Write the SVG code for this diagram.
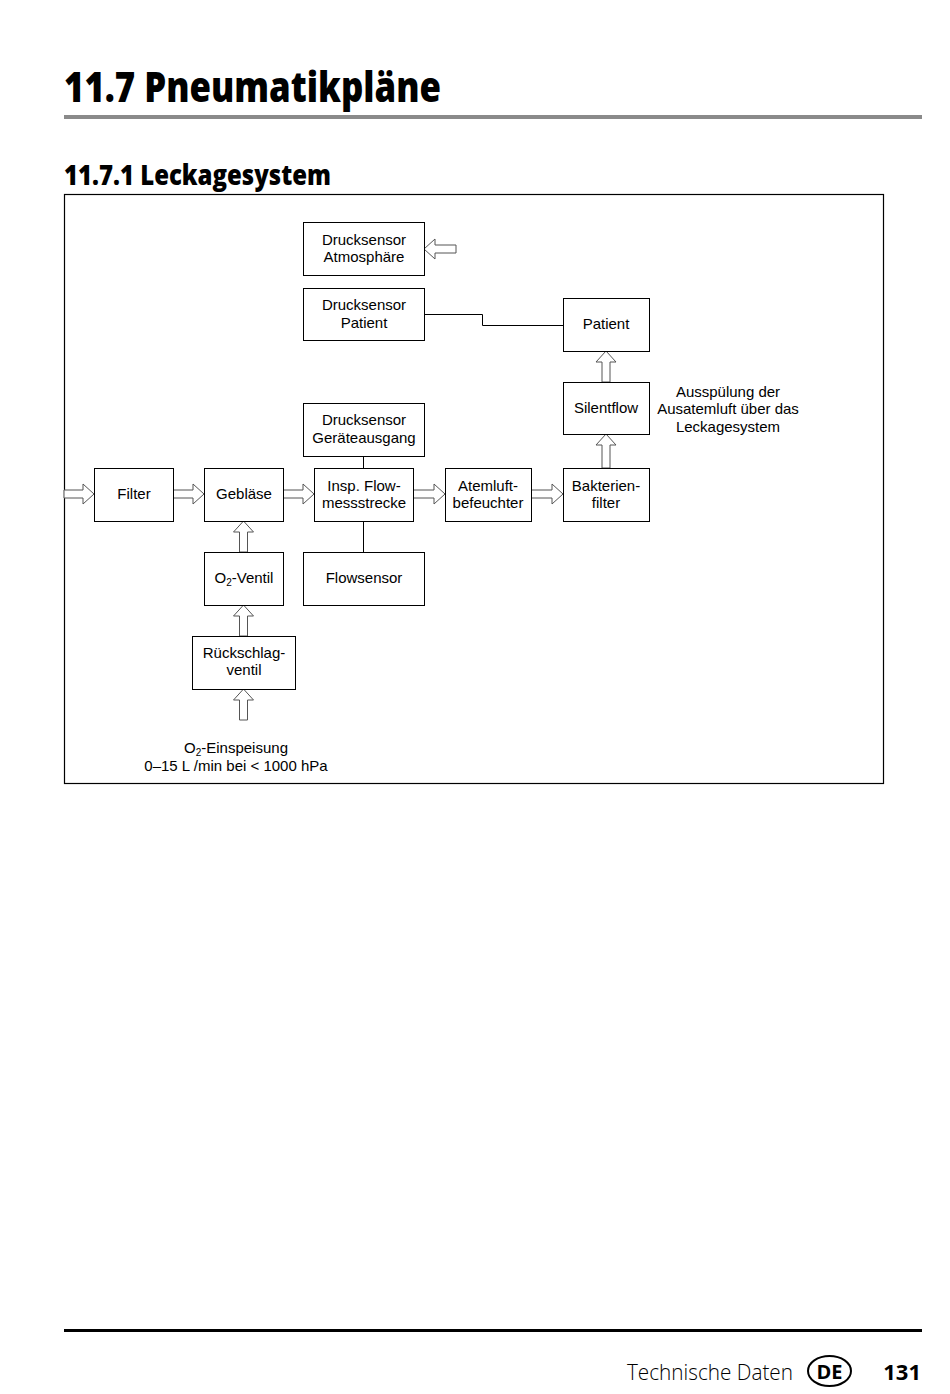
<svg xmlns="http://www.w3.org/2000/svg" width="950" height="1394" viewBox="0 0 950 1394">
<style>
.box{fill:#fff;stroke:#000;stroke-width:1}
.arr{fill:#fff;stroke:#555;stroke-width:1}
.ln{fill:none;stroke:#000;stroke-width:1}
.t{font-family:"Liberation Sans",Arial,sans-serif;font-size:15px;fill:#000;text-anchor:middle}
.h{font-family:"Open Sans","DejaVu Sans",sans-serif;font-weight:800;fill:#000}
</style>
<rect width="950" height="1394" fill="#fff"/>
<text class="h" x="64" y="102" font-size="42" textLength="377" lengthAdjust="spacingAndGlyphs">11.7 Pneumatikpläne</text>
<rect x="64" y="115" width="858" height="4" fill="#8a8a8a"/>
<text class="h" x="64" y="185" font-size="29" textLength="267" lengthAdjust="spacingAndGlyphs">11.7.1 Leckagesystem</text>
<rect x="64.5" y="194.5" width="819" height="589" fill="none" stroke="#000" stroke-width="1.2"/>

<g id="connectors">
<path class="ln" d="M363.5,456 V468 M363.5,521 V552 M424,314.5 H482.5 V325.5 H563"/>
<path class="arr" d="M64,490 L83,490 L83,484 L94,494 L83,504 L83,498 L64,498Z"/>
<path class="arr" d="M173,490 L193,490 L193,484 L204,494 L193,504 L193,498 L173,498Z"/>
<path class="arr" d="M283,490 L303,490 L303,484 L314,494 L303,504 L303,498 L283,498Z"/>
<path class="arr" d="M413,490 L434,490 L434,484 L445,494 L434,504 L434,498 L413,498Z"/>
<path class="arr" d="M531,490 L552,490 L552,484 L563,494 L552,504 L552,498 L531,498Z"/>
<path class="arr" d="M239.5,552 L239.5,532 L233.5,532 L243.5,521 L253.5,532 L247.5,532 L247.5,552Z"/>
<path class="arr" d="M239.5,636 L239.5,616 L233.5,616 L243.5,605 L253.5,616 L247.5,616 L247.5,636Z"/>
<path class="arr" d="M239.5,720 L239.5,700 L233.5,700 L243.5,689 L253.5,700 L247.5,700 L247.5,720Z"/>
<path class="arr" d="M602,468 L602,445 L596,445 L606,434 L616,445 L610,445 L610,468Z"/>
<path class="arr" d="M602,382 L602,362 L596,362 L606,351 L616,362 L610,362 L610,382Z"/>
<path class="arr" d="M456,245 L435,245 L435,239 L424,249 L435,259 L435,253 L456,253Z"/>
</g>

<g id="n-atmo"><rect class="box" x="303.5" y="222.5" width="121" height="53"/><text class="t" x="364" y="245">Drucksensor</text><text class="t" x="364" y="262">Atmosphäre</text></g>
<g id="n-dpat"><rect class="box" x="303.5" y="288.5" width="121" height="52"/><text class="t" x="364" y="310">Drucksensor</text><text class="t" x="364" y="328">Patient</text></g>
<g id="n-patient"><rect class="box" x="563.5" y="298.5" width="86" height="53"/><text class="t" x="606" y="329">Patient</text></g>
<g id="n-silent"><rect class="box" x="563.5" y="382.5" width="86" height="52"/><text class="t" x="606" y="413">Silentflow</text></g>
<g id="n-geraet"><rect class="box" x="303.5" y="403.5" width="121" height="53"/><text class="t" x="364" y="425">Drucksensor</text><text class="t" x="364" y="443">Geräteausgang</text></g>
<g id="n-filter"><rect class="box" x="94.5" y="468.5" width="79" height="53"/><text class="t" x="134" y="499">Filter</text></g>
<g id="n-geblaese"><rect class="box" x="204.5" y="468.5" width="79" height="53"/><text class="t" x="244" y="499">Gebläse</text></g>
<g id="n-insp"><rect class="box" x="314.5" y="468.5" width="99" height="53"/><text class="t" x="364" y="491">Insp. Flow-</text><text class="t" x="364" y="508">messstrecke</text></g>
<g id="n-atem"><rect class="box" x="445.5" y="468.5" width="86" height="53"/><text class="t" x="488" y="491">Atemluft-</text><text class="t" x="488" y="508">befeuchter</text></g>
<g id="n-bakt"><rect class="box" x="563.5" y="468.5" width="86" height="53"/><text class="t" x="606" y="491">Bakterien-</text><text class="t" x="606" y="508">filter</text></g>
<g id="n-o2"><rect class="box" x="204.5" y="552.5" width="79" height="53"/><text class="t" x="244" y="583">O<tspan font-size="10" dy="3">2</tspan><tspan dy="-3">-Ventil</tspan></text></g>
<g id="n-flow"><rect class="box" x="303.5" y="552.5" width="121" height="53"/><text class="t" x="364" y="583">Flowsensor</text></g>
<g id="n-rueck"><rect class="box" x="192.5" y="636.5" width="103" height="53"/><text class="t" x="244" y="658">Rückschlag-</text><text class="t" x="244" y="675">ventil</text></g>
<g id="l-o2in"><text class="t" x="236" y="753">O<tspan font-size="10" dy="3">2</tspan><tspan dy="-3">-Einspeisung</tspan></text><text class="t" x="236" y="771">0–15 L /min bei &lt; 1000 hPa</text></g>
<g id="l-aus"><text class="t" x="728" y="397">Ausspülung der</text><text class="t" x="728" y="414">Ausatemluft über das</text><text class="t" x="728" y="432">Leckagesystem</text></g>

<rect x="64" y="1329" width="858" height="3" fill="#000"/>
<text x="627" y="1380" font-family="'Open Sans','DejaVu Sans',sans-serif" font-weight="300" font-size="22" textLength="166" lengthAdjust="spacingAndGlyphs" fill="#000">Technische Daten</text>
<ellipse cx="829.5" cy="1371" rx="21.5" ry="15" fill="none" stroke="#000" stroke-width="2"/>
<text x="829.5" y="1379" text-anchor="middle" font-family="'Open Sans','DejaVu Sans',sans-serif" font-weight="700" font-size="20" fill="#000">DE</text>
<text x="921" y="1380" text-anchor="end" font-family="'Open Sans','DejaVu Sans',sans-serif" font-weight="700" font-size="22" fill="#000">131</text>
</svg>
